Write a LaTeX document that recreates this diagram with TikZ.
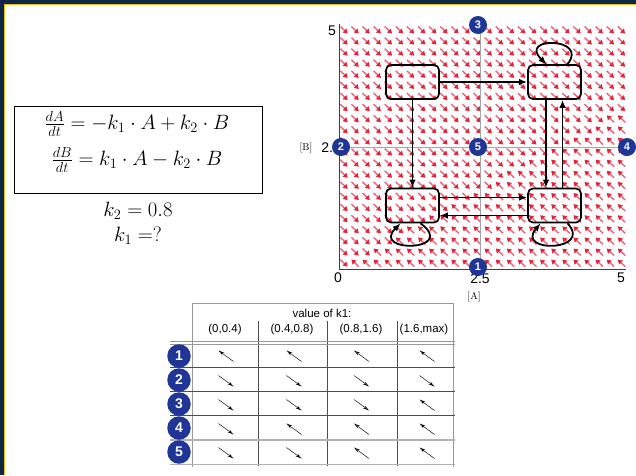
\documentclass[tikz,border=0pt]{standalone}
\usepackage{fontspec}
\newfontfamily\hv{Liberation Sans}
\usetikzlibrary{arrows.meta,calc}
\definecolor{navy}{RGB}{16,38,70}
\definecolor{gold}{RGB}{240,190,20}
\definecolor{mk}{RGB}{32,54,150}
\definecolor{fld}{RGB}{228,36,58}
\definecolor{fldl}{RGB}{236,100,120}
\tikzset{
  state/.style={draw, line width=1.7pt, rounded corners=5pt, minimum width=53pt, minimum height=34pt, inner sep=0pt},
  conn/.style={line width=1.8pt, -{Latex[length=8pt,width=6.5pt]}},
  numdot/.style={circle, fill=mk, text=white, font=\hv\bfseries\fontsize{11}{12}\selectfont, inner sep=0pt, minimum size=18pt},
  bignum/.style={circle, fill=mk, text=white, font=\hv\bfseries\fontsize{14}{15}\selectfont, inner sep=0pt, minimum size=23.5pt},
  fieldarrow/.style={fldl, line width=1.4pt, -{Triangle[length=4.4pt,width=5.2pt,color=fld]}},
  tabarrow/.style={line width=0.45pt, -{Stealth[open,length=6pt,width=3.2pt]}},
  axlab/.style={font=\hv\fontsize{14}{15}\selectfont, inner sep=0pt},
  tablab/.style={font=\hv\fontsize{11.5}{13}\selectfont, inner sep=0pt},
  serlab/.style={font=\fontsize{10}{11}\selectfont, inner sep=0pt},
  eqn/.style={font=\fontsize{22}{26}\selectfont, inner sep=0pt},
  tline/.style={gray!80, line width=0.7pt},
  dline/.style={black!70, line width=0.7pt}
}
\begin{document}
\begin{tikzpicture}[x=1pt,y=-1pt]
\useasboundingbox (0,0) rectangle (636,475);
\fill[white] (0,0) rectangle (636,475);
\fill[navy] (0,0) rectangle (636,4);
\fill[navy] (0,0) rectangle (4,475);
\draw[gold, line width=1.2pt] (4.6,475) -- (4.6,4.6) -- (636,4.6);

% ---------- vector field ----------
\foreach \i in {0,...,25}{
  \foreach \j in {0,...,21}{
    \pgfmathsetmacro\px{344+\i*11.1}
    \pgfmathsetmacro\py{30+\j*11.1}
    \pgfmathsetmacro\sg{((0.65*(\px-339)/56.4-(269-\py)/48.4)>0)?1:-1}
    \draw[fieldarrow] (\px+\sg*3.7,\py+\sg*3.5) -- (\px-\sg*3.7,\py-\sg*3.5);
  }
}
% axes and grid
\draw[gray!70, line width=0.5pt] (480,24) -- (480,269);
\draw[gray!70, line width=0.5pt] (339,147) -- (626,147);
\draw[black!75, line width=0.8pt] (339,24) -- (339,269) -- (626,269);
\node[axlab, anchor=east] (y5) at (336,31) {5};
\node[axlab, anchor=east] (y25) at (341,148) {2.5};
\node[axlab] (x0) at (338,278) {0};
\node[axlab] (x25) at (480,279) {2.5};
\node[axlab] (x5) at (621,278) {5};
\node[serlab] (lb) at (306,148) {[B]};
\node[serlab] (la) at (474,297) {[A]};

% ---------- state graph ----------
\node[state] (TL) at (412.5,82) {};
\node[state] (TR) at (554.5,82) {};
\node[state] (BL) at (412.5,205.5) {};
\node[state] (BR) at (554.5,205.5) {};
\draw[conn] (TL.east) -- (TR.west);
\draw[conn] (TL.south) -- (BL.north);
\draw[conn] ($(TR.south)+(-8.5,0)$) -- ($(BR.north)+(-8.5,0)$);
\draw[conn] ($(BR.north)+(8,0)$) -- ($(TR.south)+(8,0)$);
\draw[conn] ($(BL.east)+(0,-8)$) -- ($(BR.west)+(0,-8)$);
\draw[conn] ($(BR.west)+(0,10)$) -- ($(BL.east)+(0,10)$);
\draw[conn] ($(TR.north)+(13,0)$) .. controls +(22,-27) and +(-29,-28) .. ($(TR.north)+(-8,0)$);
\draw[conn] ($(BL.south)+(8,0)$) .. controls +(38,28) and +(-30,30) .. ($(BL.south)+(-12,0)$);
\draw[conn] ($(BR.south)+(13,0)$) .. controls +(26,28) and +(-25,30) .. ($(BR.south)+(-14,0)$);

% markers on the plot
\node[numdot] (m3) at (478,25) {3};
\node[numdot] (m2) at (341,147) {2};
\node[numdot] (m5) at (478,147) {5};
\node[numdot] (m4) at (627,147) {4};
\node[numdot] (m1) at (478,267) {1};

% ---------- equations ----------
\draw[black, line width=0.7pt] (14,106) rectangle (262,193);
\node[eqn] (eq1) at (137,124) {$\frac{dA}{dt} = -k_1 \cdot A + k_2 \cdot B$};
\node[eqn] (eq2) at (137,160) {$\frac{dB}{dt} = k_1 \cdot A - k_2 \cdot B$};
\node[eqn] (kk2) at (138,211) {$k_2 = 0.8$};
\node[eqn] (kk1) at (138,236) {$k_1 = ?$};

% ---------- table ----------
\draw[tline] (192,467) -- (192,303) -- (453,303) -- (453,467);
\foreach \x in {258,327,397}{ \draw[dline] (\x,321) -- (\x,466); }
\draw[tline] (170,341.5) -- (455,341.5);
\draw[tline] (170,344.5) -- (455,344.5);
\foreach \y in {367.5,391.5,415.5}{ \draw[dline] (170,\y) -- (455,\y); }
\draw[gray!60, line width=1.2pt] (170,440) -- (455,440);
\draw[gray!60, line width=1.2pt] (170,464.5) -- (455,464.5);
\node[tablab] (hv) at (322,313) {value of k1:};
\node[tablab] (h1) at (225,330) {(0,0.4)};
\node[tablab] (h2) at (292,330) {(0.4,0.8)};
\node[tablab] (h3) at (361,330) {(0.8,1.6)};
\node[tablab] (h4) at (424,330) {(1.6,max)};
\node[bignum] (r1) at (179,356) {1};
\node[bignum] (r2) at (179,380) {2};
\node[bignum] (r3) at (179,404) {3};
\node[bignum] (r4) at (179,428) {4};
\node[bignum] (r5) at (179,452) {5};
\foreach \y/\a/\b/\c/\d in {356/1/1/1/1, 381/-1/-1/-1/-1, 405/-1/-1/-1/1, 429/-1/1/1/1, 453/-1/-1/1/1}{
  \draw[tabarrow] (226+\a*7.5,\y+\a*5.5) -- (226-\a*7.5,\y-\a*5.5);
  \draw[tabarrow] (294+\b*7.5,\y+\b*5.5) -- (294-\b*7.5,\y-\b*5.5);
  \draw[tabarrow] (361.5+\c*7.5,\y+\c*5.5) -- (361.5-\c*7.5,\y-\c*5.5);
  \draw[tabarrow] (427+\d*7.5,\y+\d*5.5) -- (427-\d*7.5,\y-\d*5.5);
}
\end{tikzpicture}
\end{document}
